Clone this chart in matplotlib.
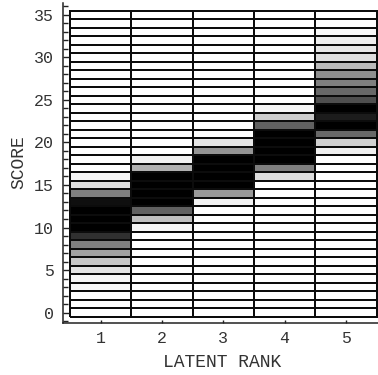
import numpy as np
import matplotlib
matplotlib.use("Agg")
import matplotlib.pyplot as plt
from matplotlib.ticker import MultipleLocator

# Data: darkness (0 = white, 1 = black) of each score cell per latent rank
scores = list(range(0, 36))
ranks = [1, 2, 3, 4, 5]

rank1 = {3: 0.03, 4: 0.04, 5: 0.11, 6: 0.22, 7: 0.37, 8: 0.50, 9: 0.81,
         10: 1.0, 11: 1.0, 12: 1.0, 13: 0.94, 14: 0.50, 15: 0.13, 16: 0.04}
rank2 = {10: 0.04, 11: 0.25, 12: 0.62, 13: 1.0, 14: 1.0, 15: 1.0, 16: 1.0,
         17: 0.31, 18: 0.06}
rank3 = {13: 0.05, 14: 0.40, 15: 1.0, 16: 1.0, 17: 1.0, 18: 1.0, 19: 0.42,
         20: 0.10}
rank4 = {16: 0.13, 17: 0.50, 18: 1.0, 19: 1.0, 20: 1.0, 21: 1.0, 22: 0.62,
         23: 0.20, 24: 0.04}
rank5 = {19: 0.06, 20: 0.18, 21: 0.59, 22: 1.0, 23: 0.89, 24: 1.0, 25: 0.69,
         26: 0.59, 27: 0.50, 28: 0.44, 29: 0.27, 30: 0.13, 31: 0.10,
         32: 0.07, 33: 0.03, 34: 0.01}

columns = [rank1, rank2, rank3, rank4, rank5]
Z = np.array([[col.get(s, 0.0) for col in columns] for s in scores])

xticks = [1, 2, 3, 4, 5]
yticks = [0, 5, 10, 15, 20, 25, 30, 35]

W, H = 378, 375
fig = plt.figure(figsize=(W / 100, H / 100), dpi=100)
ax = fig.add_axes([63 / W, 1 - 323 / H, 315 / W, 320 / H])

xe = np.arange(len(ranks) + 1) + 0.5
ye = np.arange(len(scores) + 1) - 0.5
ax.pcolormesh(xe, ye, Z, cmap="gray_r", vmin=0, vmax=1,
              edgecolors="#0c0c0c", linewidth=1.2)

ax.set_xlim(0.386, 5.524)
ax.set_ylim(-1.23, 36.4)

for sp in ["top", "right"]:
    ax.spines[sp].set_visible(False)
for sp in ["left", "bottom"]:
    ax.spines[sp].set_linewidth(1.1)
    ax.spines[sp].set_color("#222222")

font = "Liberation Mono"
ax.set_xticks(xticks)
ax.set_yticks(yticks)
ax.yaxis.set_minor_locator(MultipleLocator(1))
ax.tick_params(axis="both", which="both", direction="in", color="#222222")
ax.tick_params(axis="y", which="major", length=4, width=1, pad=6.5)
ax.tick_params(axis="y", which="minor", length=3.5, width=1)
ax.tick_params(axis="x", which="major", length=2, width=1, pad=6)
for lab in ax.get_xticklabels() + ax.get_yticklabels():
    lab.set_fontfamily(font)
    lab.set_fontsize(12)
    lab.set_color("#333333")

ax.set_xlabel("LATENT RANK", family=font, fontsize=13, color="#333333", va="center")
ax.xaxis.set_label_coords(0.506, -0.122)
ax.set_ylabel("SCORE", family=font, fontsize=13, color="#333333", va="center")
ax.yaxis.set_label_coords(-0.14, 0.503)

fig.savefig("out.png", dpi=100)
